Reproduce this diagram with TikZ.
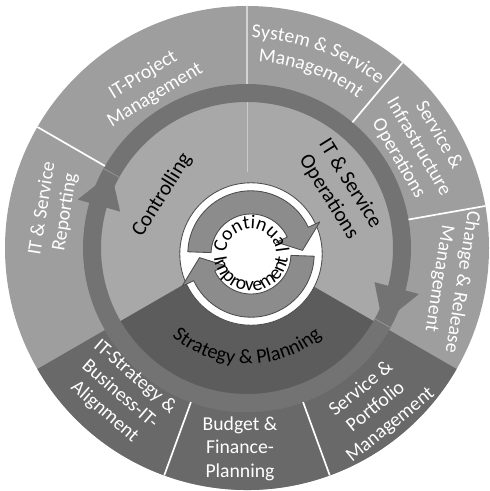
\documentclass[tikz,border=0pt]{standalone}
\usepackage{fontspec}
\setmainfont{Carlito}
\usetikzlibrary{decorations.text}
\definecolor{ringlight}{gray}{0.62}
\definecolor{ringdark}{gray}{0.41}
\definecolor{disklight}{gray}{0.66}
\definecolor{diskdark}{gray}{0.36}
\definecolor{bandgray}{gray}{0.45}
\definecolor{cyclegray}{gray}{0.55}
\definecolor{edgegray}{gray}{0.3}
\begin{document}
\begin{tikzpicture}[
  outerlabel/.style={text=white, align=center, inner sep=0pt, font=\fontsize{14}{16.5}\selectfont},
  innerlabel/.style={text=black, align=center, inner sep=0pt, font=\fontsize{15}{18}\selectfont},
  gap/.style={white, line width=1.2pt},
  cyclearrow/.style={fill=cyclegray, draw=edgegray, line width=0.6pt, line join=round}]
\useasboundingbox (-6.175,-6.075) rectangle (6.05,6.2);
% outer ring
\fill[ringlight] (0,0) circle (6.05);
\fill[ringdark] (0,0) -- (-150:6.05) arc (-150:-30:6.05) -- cycle;
% inner disk
\fill[disklight] (0,0) circle (4.1);
\fill[diskdark] (0,0) -- (210:4.1) arc (210:330:4.1) -- cycle;
% band and its two heads
\fill[bandgray, even odd rule] (0,0) circle (4.1) circle (3.65);
\fill[bandgray] (164:4.4) -- (151:3.875) -- (164:3.3) -- cycle;
\fill[bandgray] (-15:3.3) -- (-29:3.875) -- (-15:4.45) -- cycle;
\draw[disklight!70!bandgray, line width=0.5pt] (151:3.65) -- (151:4.1);
\draw[disklight!70!bandgray, line width=0.5pt] (-29:3.65) -- (-29:4.1);
% separators
\foreach \a in {50,10,-70,-110,150}
  \draw[gap] (\a:4.1) -- (\a:6.05);
\draw[gap, white!55!ringlight, line width=0.8pt] (90:4.1) -- (90:6.05);
\draw[white!40!disklight, line width=0.6pt] (90:1.9) -- (90:3.65);
% centre cycle
\begin{scope}[shift={(0.1,-0.15)}]
\coordinate (ci) at (0,0);
\draw[fill=white, draw=edgegray, line width=0.6pt] (ci) circle (1.78);
\draw[cyclearrow] (178:1.58) arc (178:25:1.58) -- (25:1.9) -- (4:1.29) -- (25:0.7) -- (25:1.0) arc (25:178:1.0) -- cycle;
\draw[cyclearrow] (-2:1.58) arc (-2:-155:1.58) -- (-155:1.9) -- (-176:1.29) -- (-155:0.7) -- (-155:1.0) arc (-155:-2:1.0) -- cycle;
\path[decorate, decoration={text along path, text align=center,
  text={|\fontsize{14}{16}\selectfont|Continual}}] (200:0.63) arc (200:-20:0.63);
\path[decorate, decoration={text along path, text align=center,
  text={|\fontsize{14}{16}\selectfont|Improvement}}] (170:0.93) arc (170:370:0.93);
\end{scope}
% inner labels
\node[innerlabel, rotate=58] (ctrl) at (148:2.5) {Controlling};
\node[innerlabel, rotate=-58] (ops) at (32:2.72) {IT \& Service\\Operations};
\path[decorate, decoration={text along path, text align=center,
  text={|\fontsize{14.5}{17}\selectfont|Strategy {\&} Planning}}] (200:2.9) arc (200:340:2.9);
% outer labels
\node[outerlabel, rotate=31] (itproj) at (121:4.75) {IT-Project\\Management};
\path[decorate, decoration={text along path, text align=center, text color=white,
  text={|\fontsize{14}{16}\selectfont|System {\&} Service}}] (95:5.25) arc (95:45:5.25);
\path[decorate, decoration={text along path, text align=center, text color=white,
  text={|\fontsize{14}{16}\selectfont|Management}}] (95:4.66) arc (95:45:4.66);
\node[outerlabel, rotate=-60] (infra) at (30.5:4.98) {Service \&\\Infrastructure\\Operations};
\node[outerlabel, rotate=-99] (change) at (-9:5.15) {Change \& Release\\Management};
\node[outerlabel, rotate=39] (portf) at (-51:5.12) {Service \&\\Portfolio\\Management};
\node[outerlabel] (budget) at (-92:5.02) {Budget \&\\Finance-\\Planning};
\node[outerlabel, rotate=-41] (align) at (-131:4.85) {IT-Strategy \&\\Business-IT-\\Alignment};
\node[outerlabel, rotate=81] (report) at (169:4.92) {IT \& Service\\Reporting};
\end{tikzpicture}
\end{document}
